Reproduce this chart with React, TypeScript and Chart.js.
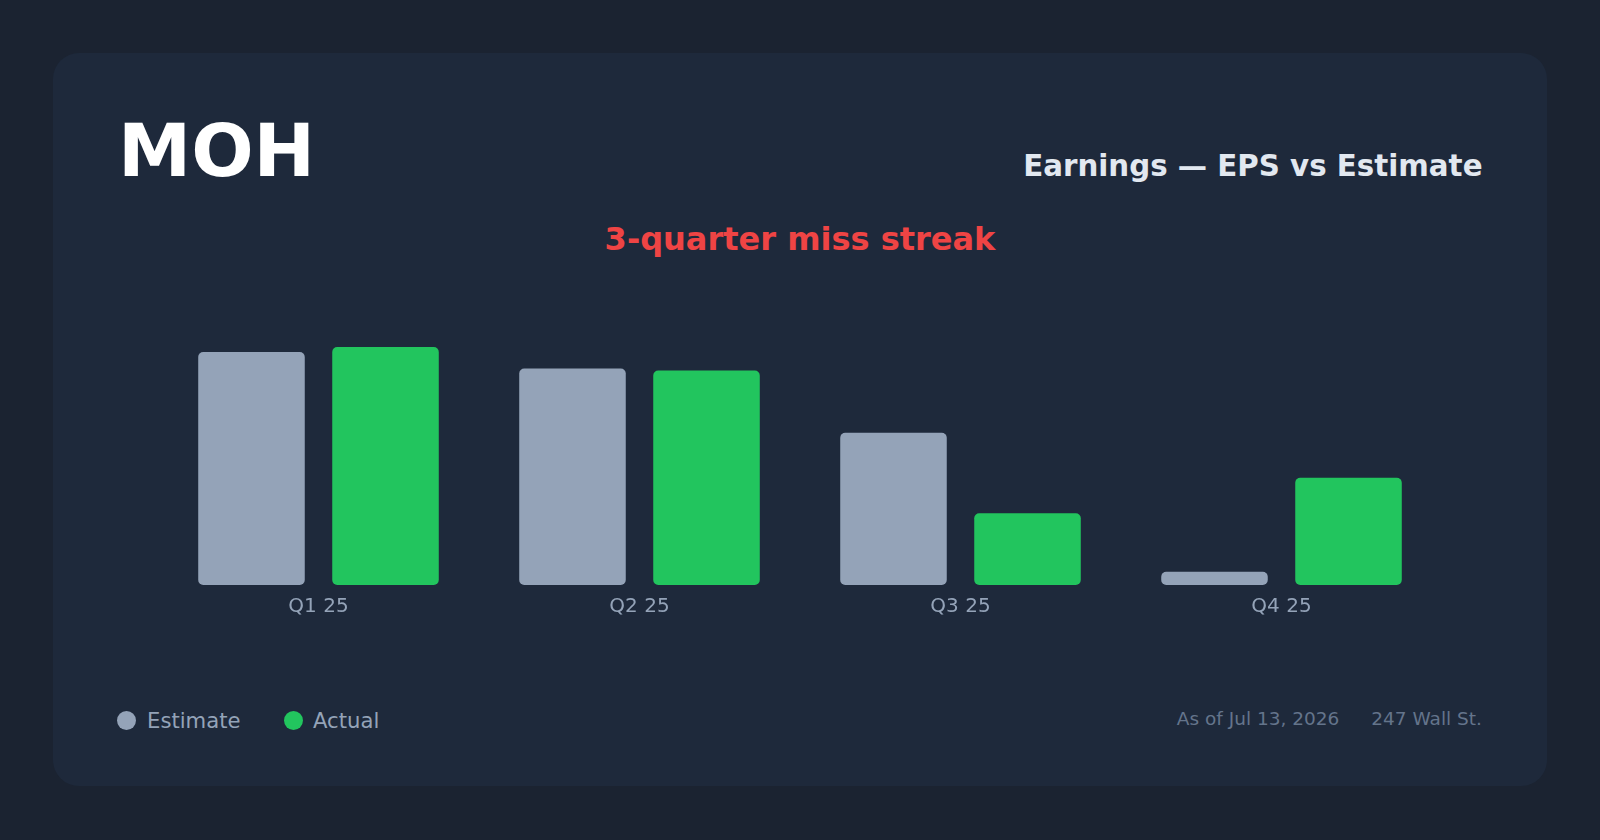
import React, { useEffect, useRef } from "react";
import { Chart, registerables } from "chart.js";

Chart.register(...registerables);

const quarters = ["Q1 25", "Q2 25", "Q3 25", "Q4 25"];
const estimateEps = [5.95, 5.53, 3.89, 0.34];
const actualEps = [6.08, 5.48, 1.83, 2.74];

const FONT = "'DejaVu Sans', 'Noto Sans', sans-serif";

export default function App() {
  const canvasRef = useRef<HTMLCanvasElement | null>(null);

  useEffect(() => {
    document.body.style.margin = "0";
    const ctx = canvasRef.current;
    if (!ctx) return;
    const chart = new Chart(ctx, {
      type: "bar",
      data: {
        labels: quarters,
        datasets: [
          {
            label: "Estimate",
            data: estimateEps,
            backgroundColor: "#94a3b8",
            borderRadius: 5,
            borderSkipped: false,
            barPercentage: 0.795,
            categoryPercentage: 0.835,
          },
          {
            label: "Actual",
            data: actualEps,
            backgroundColor: "#22c55e",
            borderRadius: 5,
            borderSkipped: false,
            barPercentage: 0.795,
            categoryPercentage: 0.835,
          },
        ],
      },
      options: {
        animation: false,
        responsive: true,
        maintainAspectRatio: false,
        layout: { padding: 0 },
        plugins: {
          legend: { display: false },
          tooltip: { enabled: false },
          title: { display: false },
        },
        scales: {
          x: {
            grid: { display: false, drawTicks: false },
            border: { display: false },
            ticks: {
              color: "#94a3b8",
              font: { family: FONT, size: 20 },
              padding: 10,
            },
          },
          y: {
            display: false,
            min: 0,
            max: 7,
          },
        },
      },
    });
    return () => chart.destroy();
  }, []);

  const abs = (s: React.CSSProperties): React.CSSProperties => ({
    position: "absolute",
    whiteSpace: "nowrap",
    lineHeight: 1,
    fontFamily: FONT,
    ...s,
  });

  return (
    <div
      style={{
        position: "relative",
        width: 1600,
        height: 840,
        background: "#1b2331",
        overflow: "hidden",
        fontFamily: FONT,
      }}
    >
      <div
        style={{
          position: "absolute",
          left: 53,
          top: 53,
          width: 1494,
          height: 733,
          borderRadius: 26,
          background: "#1e293b",
        }}
      />
      <div style={abs({ left: 118, top: 114, fontSize: 73.5, fontWeight: 700, color: "#ffffff" })}>MOH</div>
      <div style={abs({ right: 117.5, top: 151.5, fontSize: 29.3, fontWeight: 700, color: "#e2e8f0" })}>
        Earnings — EPS vs Estimate
      </div>
      <div
        style={abs({
          left: 0,
          width: 1600,
          textAlign: "center",
          top: 223.4,
          fontSize: 32,
          fontWeight: 700,
          color: "#ef4444",
        })}
      >
        3-quarter miss streak
      </div>

      <div style={{ position: "absolute", left: 158, top: 311, width: 1284, height: 318 }}>
        <canvas ref={canvasRef} />
      </div>

      <div style={abs({ left: 117, top: 710.5, width: 19, height: 19, borderRadius: "50%", background: "#94a3b8" })} />
      <div style={abs({ left: 147, top: 709.5, fontSize: 21.2, color: "#94a3b8" })}>Estimate</div>
      <div style={abs({ left: 283.5, top: 710.5, width: 19, height: 19, borderRadius: "50%", background: "#22c55e" })} />
      <div style={abs({ left: 313, top: 709.5, fontSize: 21.2, color: "#94a3b8" })}>Actual</div>

      <div style={abs({ right: 118, top: 710, fontSize: 18.5, color: "#64748b", display: "flex", gap: 32 })}>
        <span>As of Jul 13, 2026</span>
        <span>247 Wall St.</span>
      </div>
    </div>
  );
}
